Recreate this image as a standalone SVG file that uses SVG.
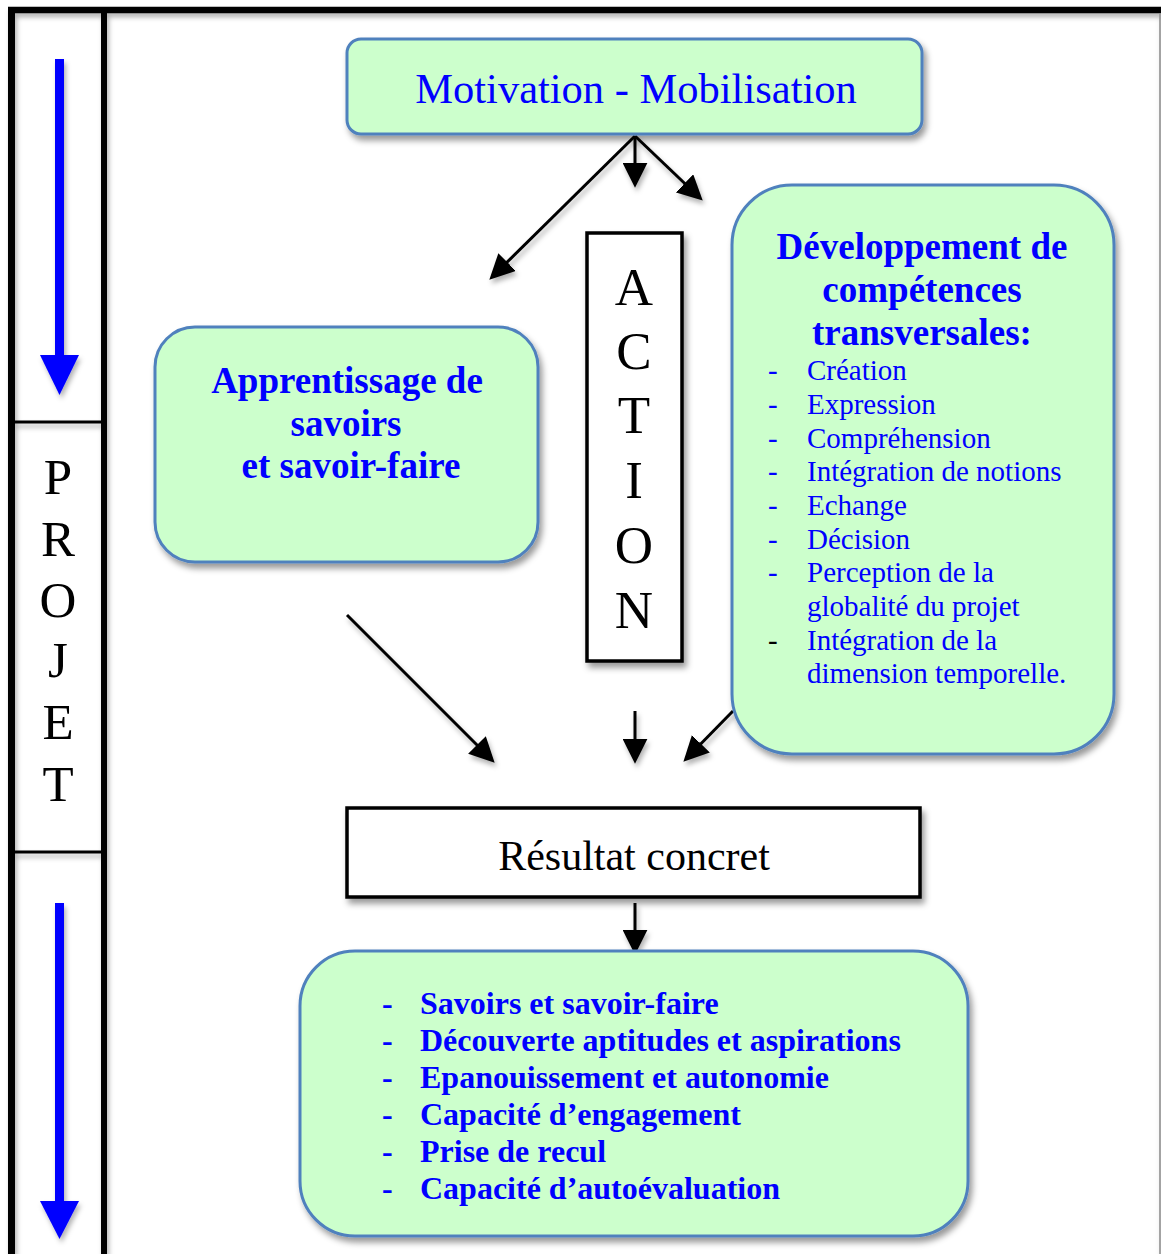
<svg xmlns="http://www.w3.org/2000/svg" width="1161" height="1254" viewBox="0 0 1161 1254">
  <defs>
    <filter id="sh" x="-10%" y="-10%" width="130%" height="130%">
      <feDropShadow dx="3" dy="5" stdDeviation="3" flood-color="#000" flood-opacity="0.4"/>
    </filter>
    <filter id="shl" x="-20%" y="-20%" width="140%" height="140%">
      <feDropShadow dx="2" dy="4" stdDeviation="2.5" flood-color="#000" flood-opacity="0.3"/>
    </filter>
    <marker id="ah" viewBox="0 0 10 10" markerUnits="userSpaceOnUse" markerWidth="25" markerHeight="25" refX="8.5" refY="5" orient="auto">
      <path d="M0,0 L10,5 L0,10 z" fill="#000"/>
    </marker>
    <style>
      .box { fill: #CCFFCC; stroke: #4F81BD; stroke-width: 3; }
      .plain { fill: #FFFFFF; stroke: #000; stroke-width: 3.5; }
      .serif { font-family: "Liberation Serif", "Times New Roman", serif; }
      .blue { fill: #0000FF; }
      .bold { font-weight: bold; }
      .conn { stroke: #000; stroke-width: 3; fill: none; marker-end: url(#ah); }
      .frame { stroke: #000; fill: none; }
    </style>
  </defs>
  <rect width="1161" height="1254" fill="#FFFFFF"/>

  <g id="frame" filter="url(#shl)">
    <line class="frame" x1="8" y1="10" x2="1161" y2="10" stroke-width="6.5"/>
    <line class="frame" x1="11.5" y1="7" x2="11.5" y2="1254" stroke-width="7"/>
    <line class="frame" x1="104" y1="10" x2="104" y2="1254" stroke-width="6"/>
    <line class="frame" x1="15" y1="422" x2="101" y2="422" stroke-width="3"/>
    <line class="frame" x1="15" y1="852" x2="101" y2="852" stroke-width="3"/>
    <line x1="1160" y1="13" x2="1160" y2="1254" stroke="#888" stroke-width="1.5"/>
  </g>

  <g id="blue-arrows" filter="url(#shl)">
    <rect x="55" y="59" width="9" height="298" fill="#0000FF"/>
    <polygon points="40,355 79,355 59.5,395" fill="#0000FF"/>
    <rect x="55" y="903" width="9" height="300" fill="#0000FF"/>
    <polygon points="40,1201 79,1201 59.5,1239" fill="#0000FF"/>
  </g>

  <g id="projet" class="serif" font-size="51" text-anchor="middle" fill="#000">
    <text x="58" y="494">P</text>
    <text x="58" y="556">R</text>
    <text x="58" y="617">O</text>
    <text x="58" y="677">J</text>
    <text x="58" y="739">E</text>
    <text x="58" y="801">T</text>
  </g>

  <g id="connectors" filter="url(#shl)">
    <line class="conn" x1="635" y1="136" x2="492" y2="277"/>
    <line class="conn" x1="635" y1="136" x2="635" y2="184"/>
    <line class="conn" x1="635" y1="136" x2="700" y2="198"/>
    <line class="conn" x1="347" y1="615" x2="492" y2="760"/>
    <line class="conn" x1="635" y1="711" x2="635" y2="760"/>
    <line class="conn" x1="733" y1="711" x2="686" y2="759"/>
    <line class="conn" x1="635" y1="903" x2="635" y2="951"/>
  </g>

  <g id="motivation">
    <rect class="box" x="347" y="39" width="575" height="95" rx="14" filter="url(#sh)"/>
    <text class="serif blue" x="636" y="103" font-size="42.5" text-anchor="middle">Motivation - Mobilisation</text>
  </g>

  <g id="apprentissage">
    <rect class="box" x="155" y="327" width="383" height="235" rx="40" filter="url(#sh)"/>
    <g class="serif blue bold" font-size="37" text-anchor="middle">
      <text x="347" y="393">Apprentissage de</text>
      <text x="346" y="436">savoirs</text>
      <text x="351" y="478">et savoir-faire</text>
    </g>
  </g>

  <g id="action">
    <rect class="plain" x="587" y="233" width="95" height="428" filter="url(#sh)"/>
    <g class="serif" font-size="53" text-anchor="middle" fill="#000">
      <text x="634" y="305">A</text>
      <text x="634" y="369">C</text>
      <text x="634" y="433">T</text>
      <text x="634" y="498">I</text>
      <text x="634" y="563">O</text>
      <text x="634" y="628">N</text>
    </g>
  </g>

  <g id="developpement">
    <rect class="box" x="732" y="185" width="382" height="569" rx="60" filter="url(#sh)"/>
    <g class="serif blue bold" font-size="37" text-anchor="middle">
      <text x="922" y="259">Développement de</text>
      <text x="922" y="302">compétences</text>
      <text x="922" y="345">transversales:</text>
    </g>
    <g class="serif blue" font-size="29">
      <text x="768" y="380">-</text><text x="807" y="380">Création</text>
      <text x="768" y="414">-</text><text x="807" y="414">Expression</text>
      <text x="768" y="448">-</text><text x="807" y="448">Compréhension</text>
      <text x="768" y="481">-</text><text x="807" y="481">Intégration de notions</text>
      <text x="768" y="515">-</text><text x="807" y="515">Echange</text>
      <text x="768" y="549">-</text><text x="807" y="549">Décision</text>
      <text x="768" y="582">-</text><text x="807" y="582">Perception de la</text>
      <text x="807" y="616">globalité du projet</text>
      <text x="768" y="650" fill="#000">-</text><text x="807" y="650">Intégration de la</text>
      <text x="807" y="683">dimension temporelle.</text>
    </g>
  </g>

  <g id="resultat">
    <rect class="plain" x="347" y="808" width="573" height="89" filter="url(#sh)"/>
    <text class="serif" x="634" y="870" font-size="42" text-anchor="middle" fill="#000">Résultat concret</text>
  </g>

  <g id="acquis">
    <rect class="box" x="300" y="951" width="668" height="285" rx="55" filter="url(#sh)"/>
    <g class="serif blue bold" font-size="32">
      <text x="382" y="1014">-</text><text x="420" y="1014">Savoirs et savoir-faire</text>
      <text x="382" y="1051">-</text><text x="420" y="1051">Découverte aptitudes et aspirations</text>
      <text x="382" y="1088">-</text><text x="420" y="1088">Epanouissement et autonomie</text>
      <text x="382" y="1125">-</text><text x="420" y="1125">Capacité d’engagement</text>
      <text x="382" y="1162">-</text><text x="420" y="1162">Prise de recul</text>
      <text x="382" y="1199">-</text><text x="420" y="1199">Capacité d’autoévaluation</text>
    </g>
  </g>
</svg>
